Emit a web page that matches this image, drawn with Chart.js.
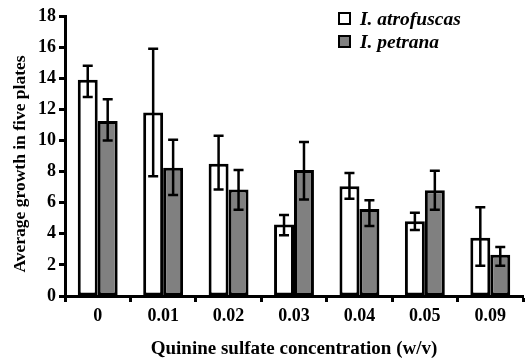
<!DOCTYPE html>
<html>
<head>
<meta charset="utf-8">
<script src="https://cdn.jsdelivr.net/npm/chart.js@4"></script>
<style>
  html, body { margin: 0; padding: 0; background: #fff; }
  #wrap { position: relative; width: 525px; height: 360px; }
  #legend { position: absolute; left: 338px; top: 8px; font: italic bold 19.5px "Liberation Serif", serif; color: #000; }
  #legend div { height: 23px; line-height: 22px; white-space: nowrap; }
  #legend span.box { display: inline-block; width: 9px; height: 9px; border: 2px solid #000; margin-right: 9px; vertical-align: 0px; }
</style>
</head>
<body>
<div id="wrap">
  <canvas id="chartCanvas" width="525" height="360"></canvas>
  <div id="legend">
    <div><span class="box" style="background:#fff"></span>I. atrofuscas</div>
    <div><span class="box" style="background:#808080"></span>I. petrana</div>
  </div>
</div>
<script>
const concentrations = ['0', '0.01', '0.02', '0.03', '0.04', '0.05', '0.09'];

// I. atrofuscas
const atroMean = [13.9, 11.8, 8.5, 4.6, 7.05, 4.8, 3.75];
const atroLow  = [12.8, 7.7, 6.85, 3.9, 6.25, 4.25, 1.95];
const atroHigh = [14.8, 15.9, 10.3, 5.2, 7.9, 5.35, 5.7];

// I. petrana
const petrMean = [11.25, 8.25, 6.85, 8.1, 5.6, 6.8, 2.65];
const petrLow  = [10.0, 6.5, 5.55, 6.2, 4.5, 5.55, 1.95];
const petrHigh = [12.65, 10.05, 8.1, 9.9, 6.15, 8.05, 3.15];

const yTitle = 'Average growth in five plates';
const xTitle = 'Quinine sulfate concentration (w/v)';

const serif = '"Liberation Serif", "Times New Roman", serif';

// dibuja las barras de error encima de cada barra
const errorBars = {
    id: 'errorBars',
    afterDatasetsDraw(chart) {
        const ctx = chart.ctx;
        const y = chart.scales.y;
        chart.data.datasets.forEach((ds, i) => {
            const meta = chart.getDatasetMeta(i);
            meta.data.forEach((bar, j) => {
                const top = y.getPixelForValue(ds.errHigh[j]);
                const bottom = y.getPixelForValue(ds.errLow[j]);
                ctx.save();
                ctx.strokeStyle = '#000';
                ctx.lineWidth = 2.5;
                ctx.beginPath();
                ctx.moveTo(bar.x, top);
                ctx.lineTo(bar.x, bottom);
                ctx.moveTo(bar.x - 5, top);
                ctx.lineTo(bar.x + 5, top);
                ctx.moveTo(bar.x - 5, bottom);
                ctx.lineTo(bar.x + 5, bottom);
                ctx.stroke();
                ctx.restore();
            });
        });
    }
};

// título del eje y, colocado a mano
const yAxisTitle = {
    id: 'yAxisTitle',
    afterDraw(chart) {
        const ctx = chart.ctx;
        const area = chart.chartArea;
        ctx.save();
        ctx.translate(20, (area.top + area.bottom) / 2 + 8);
        ctx.rotate(-Math.PI / 2);
        ctx.font = 'bold 17.5px ' + serif;
        ctx.fillStyle = '#000';
        ctx.textAlign = 'center';
        ctx.textBaseline = 'middle';
        ctx.fillText(yTitle, 0, 0);
        ctx.restore();
    }
};

const ctx = document.getElementById('chartCanvas').getContext('2d');
new Chart(ctx, {
    type: 'bar',
    data: {
        labels: concentrations,
        datasets: [
            {
                label: 'I. atrofuscas',
                data: atroMean,
                errLow: atroLow,
                errHigh: atroHigh,
                backgroundColor: '#ffffff',
                borderColor: '#000',
                borderWidth: 3,
                borderSkipped: false,
                categoryPercentage: 0.61,
                barPercentage: 1.0
            },
            {
                label: 'I. petrana',
                data: petrMean,
                errLow: petrLow,
                errHigh: petrHigh,
                backgroundColor: '#808080',
                borderColor: '#000',
                borderWidth: 3,
                borderSkipped: false,
                categoryPercentage: 0.61,
                barPercentage: 1.0
            }
        ]
    },
    options: {
        responsive: false,
        animation: false,
        layout: { padding: { top: 16, right: 2, left: 0, bottom: 0 } },
        plugins: {
            legend: { display: false },
            tooltip: { enabled: false }
        },
        scales: {
            x: {
                afterFit: (scale) => { scale.height = 64; },
                grid: { offset: true, drawOnChartArea: false, tickLength: 6, tickColor: '#000', tickWidth: 3 },
                border: { color: '#000', width: 3 },
                ticks: { color: '#000', font: { family: serif, size: 18, weight: 'bold' }, padding: 4 },
                title: { display: true, text: xTitle, color: '#000',
                         font: { family: serif, size: 19, weight: 'bold' }, padding: { top: 4, bottom: 0 } }
            },
            y: {
                min: 0,
                max: 18,
                afterFit: (scale) => { scale.width = 65; },
                ticks: { stepSize: 2, color: '#000', font: { family: serif, size: 18, weight: 'bold' }, padding: 3 },
                grid: { drawOnChartArea: false, tickLength: 6, tickColor: '#000', tickWidth: 3 },
                border: { color: '#000', width: 3 }
            }
        }
    },
    plugins: [errorBars, yAxisTitle]
});
</script>
</body>
</html>
